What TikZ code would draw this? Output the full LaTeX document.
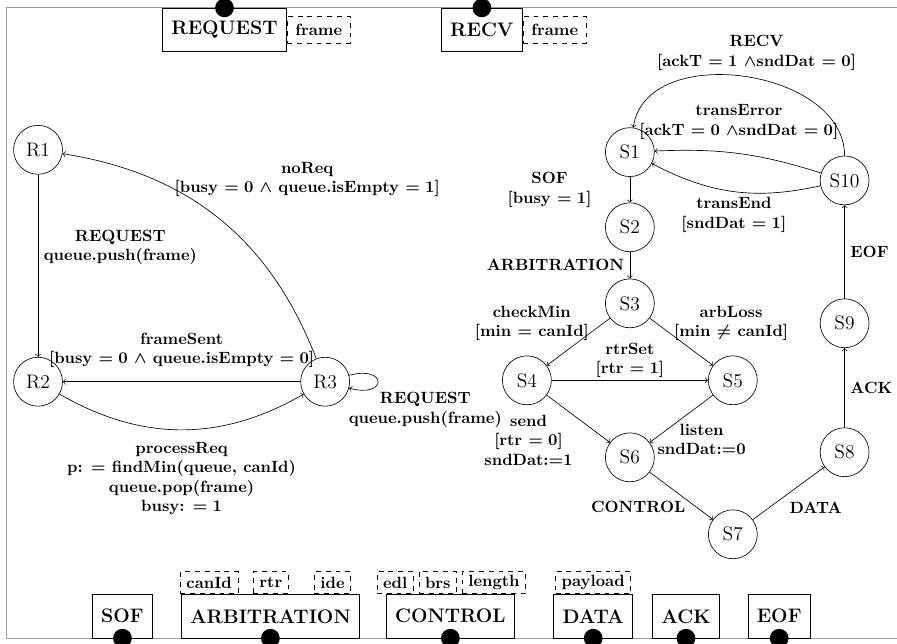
\documentclass[tikz,border=0pt]{standalone}
\usetikzlibrary{positioning, calc}
\definecolor{cFrame}{HTML}{9A9A9A}
\tikzset{
  st/.style={
    circle, draw, on grid,
    minimum size=30pt, inner sep=0pt,
    font=\large
  },
  port/.style={
    rectangle, draw,
    minimum height=26.5pt, inner xsep=5.5pt,
    font=\large\bfseries
  },
  prm/.style={
    rectangle, draw, dashed,
    minimum height=13.5pt, inner xsep=3.7pt, inner ysep=1pt,
    font=\bfseries
  },
  jack/.style={
    circle, fill=black, minimum size=11.5pt, inner sep=0pt
  },
  lbl/.style={
    font=\bfseries\boldmath, align=center
  },
  arr/.style={->}
}

\begin{document}
\begin{tikzpicture}

\useasboundingbox (0,0) rectangle (19.34,-13.88);

%% -- Component frame ------------------------------------------------
\draw[cFrame, line width=0.6pt] (0.15,-0.17) rectangle (19.6,-13.76);

%% -- Input ports (top) ----------------------------------------------
\node[port, anchor=north] (req) at (4.84,-0.17) {REQUEST};
\node[jack] (reqDot) at (req.north) {};
\node[prm, anchor=west, minimum height=16pt, inner xsep=5pt] (reqFrame) at (req.east) {frame};

\node[port, anchor=north] (recv) at (10.39,-0.17) {RECV};
\node[jack] (recvDot) at (recv.north) {};
\node[prm, anchor=west, minimum height=16pt, inner xsep=5pt] (recvFrame) at (recv.east) {frame};

%% -- Output ports (bottom) ------------------------------------------
\node[port, anchor=south] (sof)  at (2.64,-13.76)  {SOF};
\node[port, anchor=south] (arb)  at (5.83,-13.76)  {ARBITRATION};
\node[port, anchor=south] (ctrl) at (9.71,-13.76)  {CONTROL};
\node[port, anchor=south] (data) at (12.79,-13.76) {DATA};
\node[port, anchor=south] (ack)  at (14.79,-13.76) {ACK};
\node[port, anchor=south] (eof)  at (16.80,-13.76) {EOF};

\foreach \p in {sof, arb, ctrl, data, ack, eof}
  \node[jack] (\p Dot) at (\p.south) {};

% port parameters
\node[prm, anchor=south] (canId)   at (4.51,-12.81)  {canId};
\node[prm, anchor=south] (rtr)     at (5.84,-12.81)  {rtr};
\node[prm, anchor=south] (ide)     at (7.17,-12.81)  {ide};
\node[prm, anchor=south] (edl)     at (8.52,-12.81)  {edl};
\node[prm, anchor=south] (brs)     at (9.44,-12.81)  {brs};
\node[prm, anchor=south] (len)     at (10.65,-12.81) {length};
\node[prm, anchor=south] (payload) at (12.79,-12.81) {payload};

%% -- Request automaton ----------------------------------------------
\node[st] (R1) at (0.82,-3.23) {R1};
\node[st, below=5.00cm of R1] (R2) {R2};
\node[st, right=6.19cm of R2] (R3) {R3};

\draw[arr] (R1) -- node[lbl, pos=0.4, right] {REQUEST\\queue.push(frame)} (R2);
\draw[arr] (R3) to[bend right=30]
  node[lbl, pos=0.5, anchor=south west, xshift=-31pt, yshift=10pt]
  {noReq\\{[busy $= 0$ $\wedge$ queue.isEmpty $= 1$]}} (R1);
\draw[arr] (R3) -- node[lbl, above, yshift=5pt] {frameSent\\{[busy $= 0$ $\wedge$ queue.isEmpty $= 0$]}} (R2);
\draw[arr] (R2) to[bend right=30]
  node[lbl, below, yshift=-4pt] {processReq\\p: $=$ findMin(queue, canId)\\queue.pop(frame)\\busy: $= 1$} (R3);
\draw[arr] (R3) to[loop right]
  node[lbl, below, xshift=29pt, yshift=-3pt] {REQUEST\\queue.push(frame)} (R3);

%% -- Send automaton -------------------------------------------------
\node[st] (S1) at (13.58,-3.28) {S1};
\node[st, below=1.62cm of S1] (S2) {S2};
\node[st, below=1.64cm of S2] (S3) {S3};
\node[st, below left=1.66cm and 2.22cm of S3] (S4) {S4};
\node[st, below right=1.66cm and 2.22cm of S3] (S5) {S5};
\node[st, below right=1.66cm and 2.22cm of S4] (S6) {S6};
\node[st, below right=1.66cm and 2.22cm of S6] (S7) {S7};
\node[st, above right=1.77cm and 2.41cm of S7] (S8) {S8};
\node[st, above=2.78cm of S8] (S9) {S9};
\node[st, above=3.08cm of S9] (S10) {S10};

\draw[arr] (S1) -- node[lbl, left=20pt] {SOF\\{[busy $= 1$]}} (S2);
\draw[arr] (S2) -- node[lbl, left] {ARBITRATION} (S3);
\draw[arr] (S3) -- node[lbl, above left, xshift=10pt, yshift=-3pt] {checkMin\\{[min $=$ canId]}} (S4);
\draw[arr] (S3) -- node[lbl, above right, xshift=-8pt, yshift=-3pt] {arbLoss\\{[min $\neq$ canId]}} (S5);
\draw[arr] (S4) -- node[lbl, above, yshift=-2pt] {rtrSet\\{[rtr $= 1$]}} (S5);
\draw[arr] (S4) -- node[lbl, below left, yshift=6pt] {send\\{[rtr $= 0$]}\\sndDat:=1} (S6);
\draw[arr] (S5) -- node[lbl, pos=0.8, anchor=west, xshift=-6.5pt, yshift=-4pt] {listen\\sndDat:=0} (S6);
\draw[arr] (S6) -- node[lbl, below left, xshift=6pt] {CONTROL} (S7);
\draw[arr] (S7) -- node[lbl, below right, xshift=-3pt, yshift=-2pt] {DATA} (S8);
\draw[arr] (S8) -- node[lbl, right] {ACK} (S9);
\draw[arr] (S9) -- node[lbl, right] {EOF} (S10);

% back to idle
\draw[arr] (S10) to[bend right=10]
  node[lbl, above, yshift=5pt] {transError\\{[ackT $= 0$ $\wedge$sndDat $= 0$]}} (S1);
\draw[arr] (S10) to[bend left=20]
  node[lbl, below] {transEnd\\{[sndDat $= 1$]}} (S1);
\draw[arr] (S10) to[out=90, in=82, looseness=1.05]
  node[lbl, above, xshift=8pt] {RECV\\{[ackT $= 1$ $\wedge$sndDat $= 0$]}} (S1);

\end{tikzpicture}
\end{document}
